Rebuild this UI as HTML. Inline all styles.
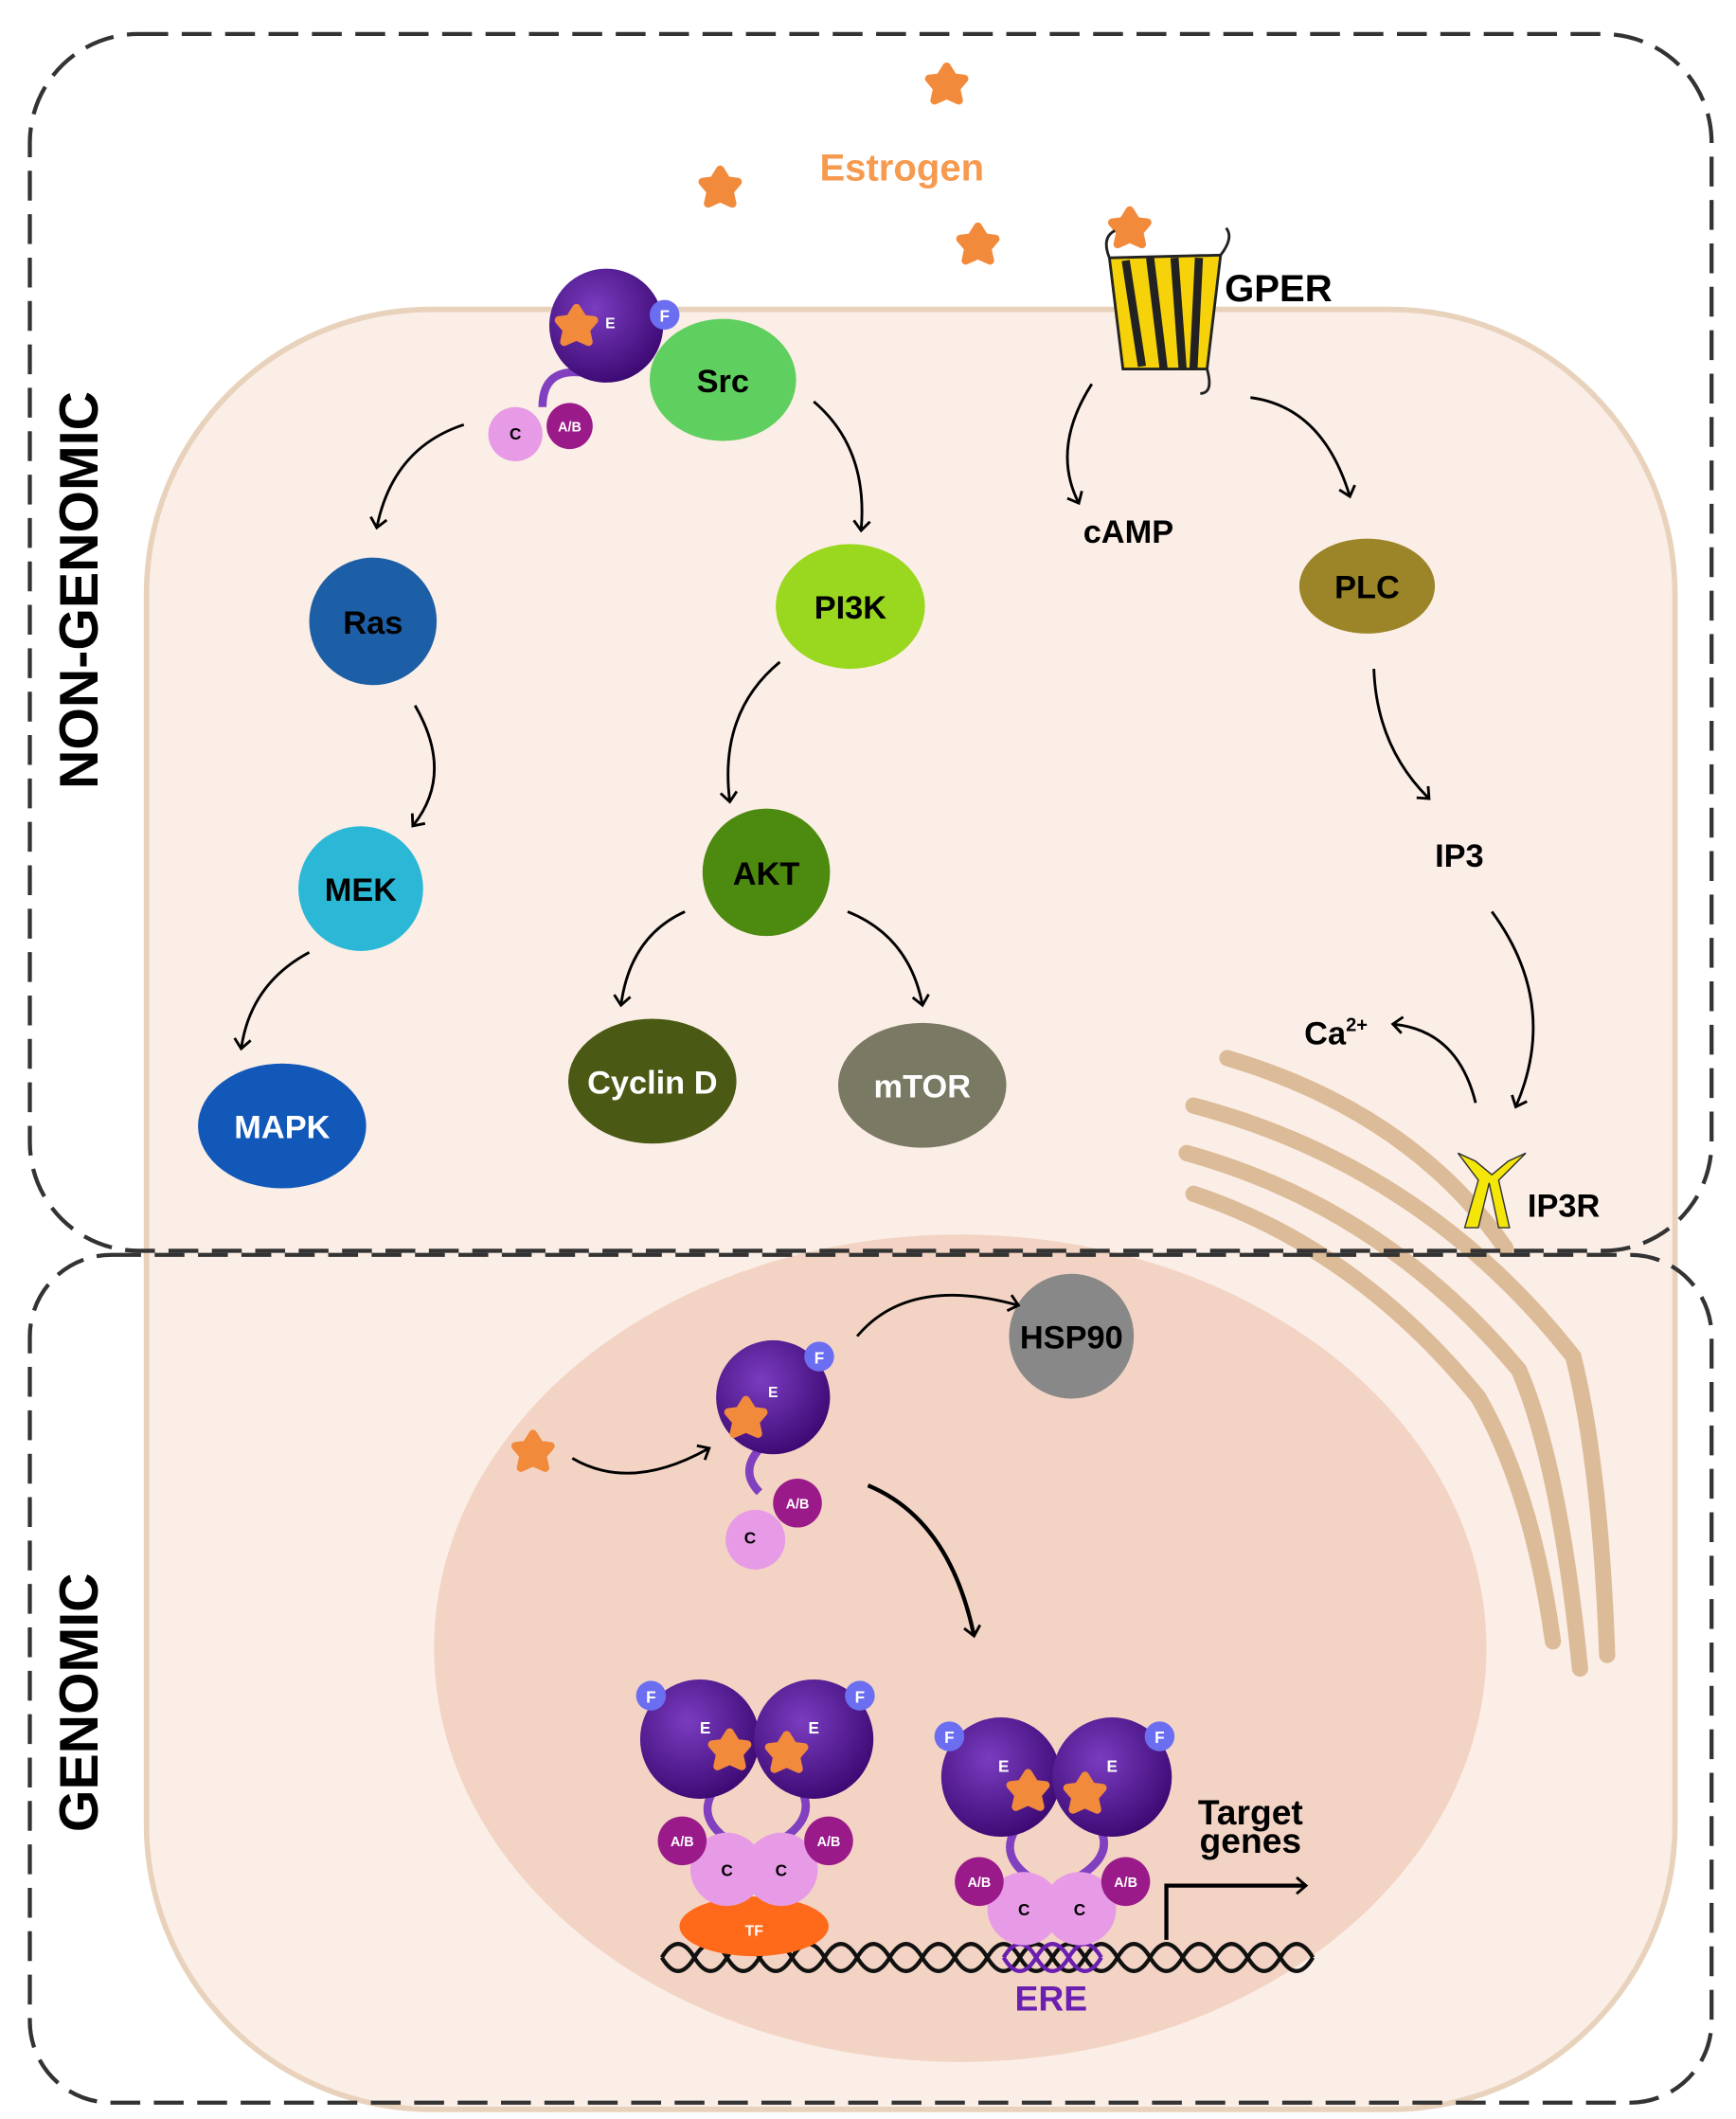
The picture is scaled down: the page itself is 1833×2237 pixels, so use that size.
<!DOCTYPE html>
<html><head><meta charset="utf-8"><style>
html,body{margin:0;padding:0;background:#fff}
svg{display:block}
text{font-family:"Liberation Sans",sans-serif;font-weight:bold}
</style></head><body>
<svg width="1833" height="2237" viewBox="0 0 1280 1562" xmlns="http://www.w3.org/2000/svg">
<defs>
<marker id="ah" markerWidth="14" markerHeight="14" refX="7" refY="7" orient="auto" markerUnits="userSpaceOnUse">
<path d="M1,1 L8,7 L1,13" fill="none" stroke="#000" stroke-width="2"/>
</marker>
<radialGradient id="gE" cx="40%" cy="35%" r="70%"><stop offset="0" stop-color="#7a3cc0"/><stop offset="1" stop-color="#3a0870"/></radialGradient>
<path id="st" d="M0,-13 L5,-5 L13,-4 L7,3 L9,12 L0,8 L-9,12 L-7,3 L-13,-4 L-5,-5 Z" fill="#f28a3c" stroke="#f28a3c" stroke-width="6" stroke-linejoin="round"/>
</defs>
<rect x="0" y="0" width="1280" height="1562" fill="#fff"/>
<!-- cell -->
<rect x="108" y="228" width="1127" height="1327" rx="210" fill="#fbeee6" stroke="#e8d2bc" stroke-width="4"/>
<ellipse cx="708" cy="1215" rx="388" ry="305" fill="#f3d4c4"/>
<!-- ER -->
<g fill="none" stroke="#d9b690" stroke-width="12" stroke-linecap="round" opacity="0.9">
<path d="M880 815 Q1050 860 1160 1000 Q1180 1080 1185 1220"/>
<path d="M875 850 Q1020 890 1120 1010 Q1150 1080 1165 1230"/>
<path d="M880 880 Q1000 920 1090 1030 Q1130 1100 1145 1210"/>
<path d="M905 780 Q1040 820 1110 920"/>
</g>
<!-- dashed boxes -->
<rect x="22" y="25" width="1240" height="897" rx="80" fill="none" stroke="#333" stroke-width="3" stroke-dasharray="22,10"/>
<rect x="22" y="925" width="1240" height="625" rx="60" fill="none" stroke="#333" stroke-width="3" stroke-dasharray="22,10"/>
<text transform="translate(72,435) rotate(-90)" font-size="40" text-anchor="middle">NON-GENOMIC</text>
<text transform="translate(72,1255) rotate(-90)" font-size="40" text-anchor="middle">GENOMIC</text>
<!-- estrogens -->
<use href="#st" x="698" y="62"/><use href="#st" x="531" y="138"/><use href="#st" x="721" y="180"/><use href="#st" x="833" y="168"/><use href="#st" x="393" y="1070"/>
<text x="665" y="133" font-size="28" fill="#f59a4e" text-anchor="middle">Estrogen</text>
<!-- GPER -->
<g>
<path d="M818 190 L900 188 L890 272 L828 272 Z" fill="#f5d20a" stroke="#222" stroke-width="2"/>
<path d="M830 192 L842 270 M848 190 L858 272 M866 190 L872 272 M884 190 L880 272" stroke="#222" stroke-width="6"/>
<path d="M818 190 Q812 175 822 170 M900 188 Q910 175 904 168 M890 272 Q895 290 885 290" fill="none" stroke="#222" stroke-width="2"/>
</g>
<text x="903" y="222" font-size="28">GPER</text>
<!-- nodes -->
<g font-size="24" text-anchor="middle">
<circle cx="275" cy="458" r="47" fill="#1d5fa6"/><text x="275" y="467">Ras</text>
<circle cx="266" cy="655" r="46" fill="#2bb8d6"/><text x="266" y="664">MEK</text>
<ellipse cx="208" cy="830" rx="62" ry="46" fill="#1258b8"/><text x="208" y="839" fill="#fff">MAPK</text>
<ellipse cx="533" cy="280" rx="54" ry="45" fill="#5fcf5f"/><text x="533" y="289">Src</text>
<ellipse cx="627" cy="447" rx="55" ry="46" fill="#9ad81f"/><text x="627" y="456">PI3K</text>
<circle cx="565" cy="643" r="47" fill="#4d8a10"/><text x="565" y="652">AKT</text>
<ellipse cx="481" cy="797" rx="62" ry="46" fill="#4a5a14"/><text x="481" y="806" fill="#fff">Cyclin D</text>
<ellipse cx="680" cy="800" rx="62" ry="46" fill="#7a7963"/><text x="680" y="809" fill="#fff">mTOR</text>
<ellipse cx="1008" cy="432" rx="50" ry="35" fill="#9b8528"/><text x="1008" y="441">PLC</text>
<circle cx="790" cy="985" r="46" fill="#888"/><text x="790" y="994">HSP90</text>
<text x="832" y="400">cAMP</text>
<text x="1076" y="639">IP3</text>
<text x="985" y="770">Ca<tspan font-size="14" dy="-10">2+</tspan></text>
<text x="1153" y="897">IP3R</text>
<text x="922" y="1345" font-size="26">Target</text>
<text x="922" y="1366" font-size="26">genes</text>
<text x="775" y="1482" fill="#6a1fb0" font-size="26">ERE</text>
</g>
<!-- IP3R -->
<path d="M1075 850 L1090 870 L1080 905 L1090 905 L1098 872 L1105 905 L1113 905 L1105 870 L1125 850 L1112 856 L1100 866 L1088 856 Z" fill="#f5e60a" stroke="#333" stroke-width="1"/>
<!-- arrows -->
<g fill="none" stroke="#000" stroke-width="2" marker-end="url(#ah)">
<path d="M342 313 Q290 330 278 388"/>
<path d="M600 296 Q640 330 635 390"/>
<path d="M306 520 Q335 570 305 608"/>
<path d="M228 702 Q185 725 178 772"/>
<path d="M575 488 Q530 525 538 590"/>
<path d="M505 672 Q465 690 458 740"/>
<path d="M625 672 Q670 690 680 740"/>
<path d="M805 283 Q775 330 795 370"/>
<path d="M922 293 Q975 300 995 365"/>
<path d="M1013 493 Q1015 550 1053 588"/>
<path d="M1100 672 Q1150 740 1118 815"/>
<path d="M1088 813 Q1075 760 1028 755"/>
<path d="M632 985 Q670 940 750 962"/>
<path d="M422 1075 Q465 1100 522 1068"/>
<path d="M640 1095 Q700 1120 718 1205" stroke-width="3"/>
<path d="M860 1430 V1390 H962" stroke-width="3"/>
</g>
<!-- DNA -->
<g fill="none" stroke="#111" stroke-width="3">
<path d="M488 1443 q12 -20 24 0 t24 0 t24 0 t24 0 t24 0 t24 0 t24 0 t24 0 t24 0 t24 0 t24 0 t24 0 t24 0 t24 0 t24 0 t24 0 t24 0 t24 0 t24 0 t24 0"/>
<path d="M488 1443 q12 20 24 0 t24 0 t24 0 t24 0 t24 0 t24 0 t24 0 t24 0 t24 0 t24 0 t24 0 t24 0 t24 0 t24 0 t24 0 t24 0 t24 0 t24 0 t24 0 t24 0"/>
<path d="M740 1443 q12 -20 24 0 t24 0 t24 0" stroke="#6a1fb0"/>
<path d="M740 1443 q12 20 24 0 t24 0 t24 0" stroke="#6a1fb0"/>
</g>
<ellipse cx="556" cy="1420" rx="55" ry="22" fill="#ff6a1a"/>
<!-- receptor: membrane -->
<g font-size="12" text-anchor="middle">
<path d="M432 275 Q400 270 400 300" fill="none" stroke="#8040c0" stroke-width="6"/>
<circle cx="447" cy="240" r="42" fill="url(#gE)"/><use href="#st" x="425" y="240"/><text x="450" y="242" fill="#fff" font-size="11">E</text>
<circle cx="490" cy="232" r="11" fill="#6b6ef0"/><text x="490" y="237" fill="#fff">F</text>
<circle cx="380" cy="320" r="20" fill="#e79be6"/><text x="380" y="324">C</text>
<circle cx="420" cy="314" r="17" fill="#9a1a8a"/><text x="420" y="318" fill="#fff" font-size="10">A/B</text>
<!-- genomic single -->
<path d="M560 1068 Q545 1085 560 1100" fill="none" stroke="#8040c0" stroke-width="6"/>
<circle cx="570" cy="1030" r="42" fill="url(#gE)"/><use href="#st" x="550" y="1045"/><text x="570" y="1030" fill="#fff" font-size="11">E</text>
<circle cx="604" cy="1000" r="11" fill="#6b6ef0"/><text x="604" y="1005" fill="#fff">F</text>
<circle cx="557" cy="1135" r="22" fill="#e79be6"/><text x="553" y="1138">C</text>
<circle cx="588" cy="1108" r="18" fill="#9a1a8a"/><text x="588" y="1112" fill="#fff" font-size="10">A/B</text>
<!-- dimer 1 -->
<path d="M525 1322 Q515 1340 535 1355 M592 1322 Q600 1340 578 1355" fill="none" stroke="#8040c0" stroke-width="6"/>
<circle cx="516" cy="1282" r="44" fill="url(#gE)"/><circle cx="600" cy="1282" r="44" fill="url(#gE)"/>
<use href="#st" x="538" y="1290"/><use href="#st" x="580" y="1292"/>
<text x="520" y="1278" fill="#fff">E</text><text x="600" y="1278" fill="#fff">E</text>
<circle cx="480" cy="1250" r="11" fill="#6b6ef0"/><text x="480" y="1255" fill="#fff">F</text>
<circle cx="634" cy="1250" r="11" fill="#6b6ef0"/><text x="634" y="1255" fill="#fff">F</text>
<circle cx="536" cy="1378" r="27" fill="#e79be6"/><circle cx="576" cy="1378" r="27" fill="#e79be6"/>
<text x="536" y="1383">C</text><text x="576" y="1383">C</text>
<circle cx="503" cy="1357" r="18" fill="#9a1a8a"/><text x="503" y="1361" fill="#fff" font-size="10">A/B</text>
<circle cx="611" cy="1357" r="18" fill="#9a1a8a"/><text x="611" y="1361" fill="#fff" font-size="10">A/B</text>
<text x="556" y="1427" fill="#fff" font-size="11">TF</text>
<!-- dimer 2 -->
<path d="M748 1350 Q738 1368 758 1383 M812 1350 Q820 1368 796 1383" fill="none" stroke="#8040c0" stroke-width="6"/>
<circle cx="738" cy="1310" r="44" fill="url(#gE)"/><circle cx="820" cy="1310" r="44" fill="url(#gE)"/>
<use href="#st" x="758" y="1320"/><use href="#st" x="800" y="1322"/>
<text x="740" y="1306" fill="#fff">E</text><text x="820" y="1306" fill="#fff">E</text>
<circle cx="700" cy="1280" r="11" fill="#6b6ef0"/><text x="700" y="1285" fill="#fff">F</text>
<circle cx="855" cy="1280" r="11" fill="#6b6ef0"/><text x="855" y="1285" fill="#fff">F</text>
<circle cx="755" cy="1407" r="27" fill="#e79be6"/><circle cx="796" cy="1407" r="27" fill="#e79be6"/>
<text x="755" y="1412">C</text><text x="796" y="1412">C</text>
<circle cx="722" cy="1387" r="18" fill="#9a1a8a"/><text x="722" y="1391" fill="#fff" font-size="10">A/B</text>
<circle cx="830" cy="1387" r="18" fill="#9a1a8a"/><text x="830" y="1391" fill="#fff" font-size="10">A/B</text>
</g>
</svg>
</body></html>
